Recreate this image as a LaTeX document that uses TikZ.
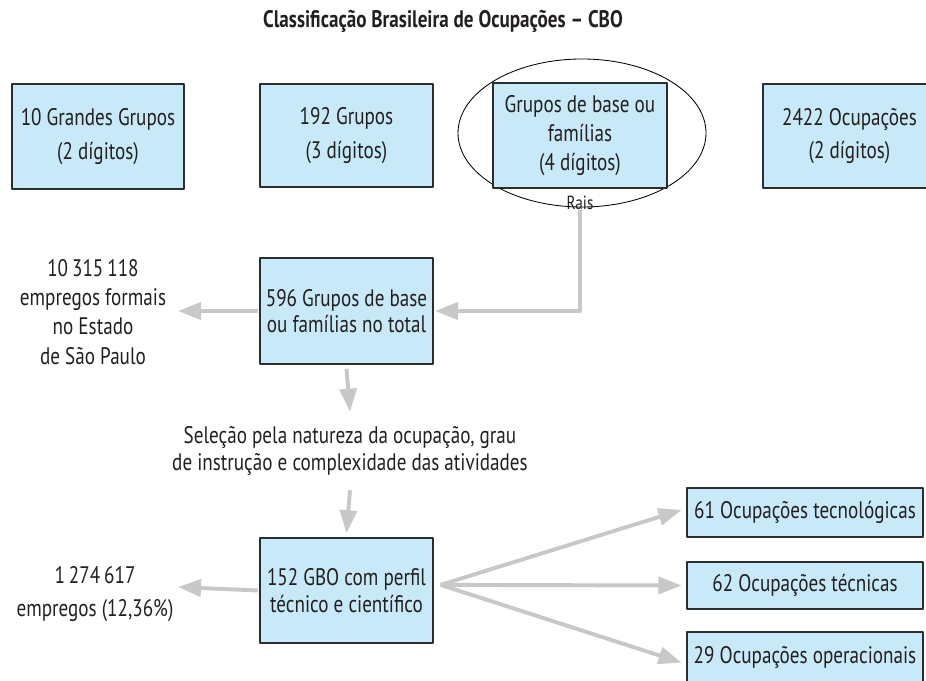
\documentclass[tikz,border=0pt]{standalone}
\usepackage{fontspec}
\setmainfont{PT Sans}[FakeStretch=0.8]
\newfontfamily\titulo{PT Sans}[FakeStretch=0.8]
\usetikzlibrary{arrows.meta}
\usetikzlibrary{positioning}
\definecolor{azulclaro}{RGB}{200,233,248}
\definecolor{borda}{RGB}{45,45,45}
\definecolor{cinzaseta}{RGB}{200,200,202}
\definecolor{textocor}{RGB}{35,31,32}
\newcommand{\schrift}[2]{\fontsize{#1}{#2}\selectfont}

\begin{document}
\begin{tikzpicture}[line join=round,x=0.025cm,y=-0.025cm,
  caixa/.style={draw=borda,fill=azulclaro,line width=0.85pt,align=center,inner sep=0pt,text=textocor},
  seta/.style={draw=cinzaseta,line width=2.8pt,-{Triangle[length=5.75mm,width=4.25mm]}},
  texto/.style={align=center,inner sep=0pt,text=textocor}]
\useasboundingbox (0,0) rectangle (926,681);

% Titel
\node[texto,font=\titulo\bfseries\schrift{17}{20}] (titulo) at (443,21) {Classificação Brasileira de Ocupações – CBO};

% obere Reihe
\draw[line width=0.6pt] (582,133) ellipse [x radius=124, y radius=74]; % Ellipse um GBO
\node[caixa,minimum width=4.3cm,minimum height=2.625cm,font=\schrift{17}{24}] (g10) at (98,136.5) {10 Grandes Grupos\\(2 dígitos)};
\node[caixa,minimum width=4.325cm,minimum height=2.575cm,font=\schrift{17}{24}] (g192) at (346.5,135.5) {192 Grupos\\(3 dígitos)};
\node[caixa,minimum width=4.35cm,minimum height=2.625cm,font=\schrift{17}{20.5}] (gbase) at (580,135.5) {Grupos de base ou\\famílias\\(4 dígitos)};
\node[caixa,minimum width=4.325cm,minimum height=2.6cm,font=\schrift{17}{23}] (g2422) at (849.5,136) {2422 Ocupações\\(2 dígitos)};
\node[texto,font=\schrift{13.5}{16}] (rais) at (580,203) {Rais};

% Mitte
\node[caixa,minimum width=4.325cm,minimum height=2.65cm,font=\schrift{17}{18.8}] (g596) at (346.5,311) {596 Grupos de base\\ou famílias no total};
\node[texto,font=\schrift{17}{20.8}] (emp1) at (93,312) {10\,315\,118\\empregos formais\\no Estado\\de São Paulo};
\coordinate (p596) at (178,311);
\node[texto,font=\schrift{17}{18.8}] (selecao) at (350,451) {Seleção pela natureza da ocupação, grau\\de instrução e complexidade das atividades};

% untere Reihe
\node[caixa,minimum width=4.325cm,minimum height=2.625cm,font=\schrift{17}{18.8}] (g152) at (346.5,590.5) {152 GBO com perfil\\técnico e científico};
\node[texto,font=\schrift{17}{23.5}] (emp2) at (95,594) {1\,274\,617\\empregos (12,36\%)};
\coordinate (p152) at (178,587);
\node[caixa,minimum width=5.9cm,minimum height=1.225cm,font=\schrift{17}{18.8}] (o61) at (805,512.5) {61 Ocupações tecnológicas};
\node[caixa,minimum width=5.9cm,minimum height=1.175cm,font=\schrift{17}{18.8}] (o62) at (805,585.5) {62 Ocupações técnicas};
\node[caixa,minimum width=5.9cm,minimum height=1.25cm,font=\schrift{17}{18.8}] (o29) at (805,657) {29 Ocupações operacionais};
\coordinate (leque) at ([xshift=5pt,yshift=4pt]g152.east);

% Pfeile
\draw[seta] (rais.south) |- ([xshift=1pt]g596.east);
\draw[seta] ([xshift=-1pt]g596.west) -- (p596);
\draw[seta] ([yshift=-3pt]g596.south) -- ([yshift=10.5pt]selecao.north);
\draw[seta] ([yshift=-10.5pt]selecao.south) -- ([yshift=3pt]g152.north);
\draw[seta] ([xshift=-1pt]g152.west) -- (p152);
\draw[seta] (leque) -- ([xshift=-3.5pt,yshift=1.8pt]o61.west);
\draw[seta] (leque) -- ([xshift=-3.5pt]o62.west);
\draw[seta] (leque) -- ([xshift=-3.5pt,yshift=-4pt]o29.west);
\end{tikzpicture}
\end{document}
